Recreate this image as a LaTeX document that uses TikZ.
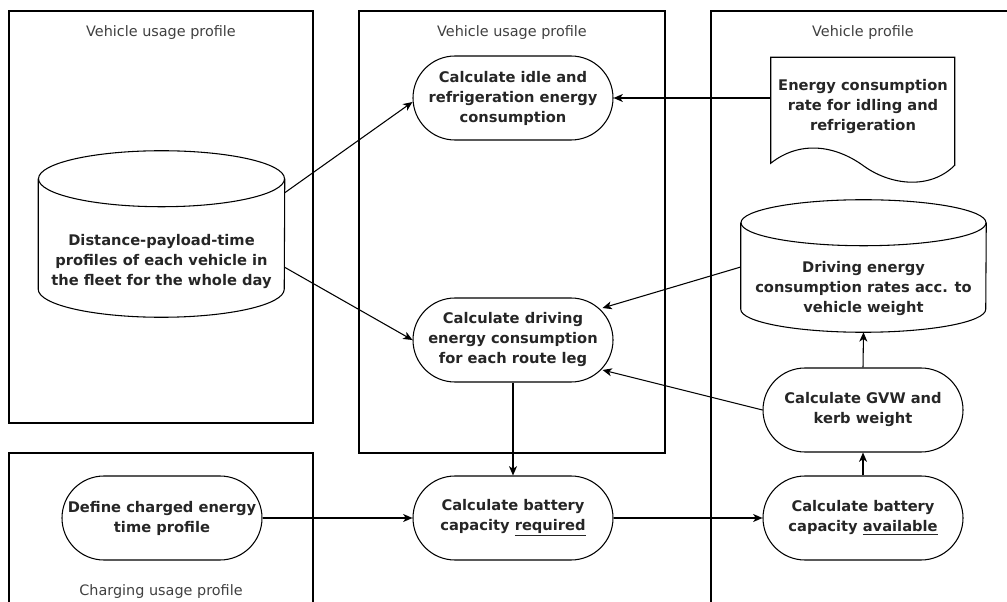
\documentclass[tikz,border=0pt]{standalone}
\usepackage{fontspec}
\setmainfont{DejaVu Sans}
\usetikzlibrary{arrows.meta}

\begin{document}
\begin{tikzpicture}[
  x=0.75pt, y=-0.75pt,
  >={Stealth[length=7pt,width=6pt,inset=2pt]},
  every node/.style={font=\fontsize{11}{15}\selectfont\bfseries, text=black!85},
  proc/.style={rectangle, rounded corners=31.5pt, draw, line width=0.8pt, inner sep=0pt, minimum width=150pt, minimum height=63pt, align=center},
  store/.style={rectangle, inner sep=0pt, align=center},
  grp/.style={font=\fontsize{10.8}{13}\selectfont, text=black!75},
  frame/.style={draw, line width=0.8pt},
  link/.style={->, line width=0.8pt}
]
  \clip (0,0) rectangle (1007,602);

  % swimlanes
  \draw[frame] (9,11) rectangle (313,423);
  \draw[frame] (359,11) rectangle (665,453);
  \draw[frame] (711,11) rectangle (1030,640);
  \draw[frame] (9,453) rectangle (313,640);
  \node[grp] (lane1) at (161,33) {Vehicle usage profile};
  \node[grp] (lane2) at (512,33) {Vehicle usage profile};
  \node[grp] (lane3) at (863,33) {Vehicle profile};
  \node[grp] (lane4) at (161,592) {Charging usage profile};

  % processes
  \node[proc] (idle) at (513,98) {Calculate idle and\\refrigeration energy\\consumption};
  \node[proc] (drive) at (513,340) {Calculate driving\\energy consumption\\for each route leg};
  \node[proc] (gvw) at (863,410) {Calculate GVW and\\kerb weight};
  \node[proc] (avail) at (863,518) {Calculate battery\\capacity \underline{available}};
  \node[proc] (req) at (513,518) {Calculate battery\\capacity \underline{required}};
  \node[proc] (define) at (162,518) {Define charged energy\\time profile};

  % data stores
  \node[store, minimum width=184.5pt, minimum height=82.5pt] (ldb) at (161.5,262)
    {Distance-payload-time\\profiles of each vehicle in\\the fleet for the whole day};
  \draw[line width=0.8pt] ([yshift=21pt]ldb.north) ellipse [x radius=92.25pt, y radius=21pt];
  \draw[line width=0.8pt] ([yshift=21pt]ldb.north west) -- ([yshift=21pt]ldb.south west)
    arc [start angle=180, end angle=360, x radius=92.25pt, y radius=21pt] -- ([yshift=21pt]ldb.north east);

  \node[store, minimum width=183.75pt, minimum height=64.5pt] (rdb) at (863.5,289)
    {Driving energy\\consumption rates acc. to\\vehicle weight};
  \draw[line width=0.8pt] ([yshift=17.25pt]rdb.north) ellipse [x radius=91.875pt, y radius=17.25pt];
  \draw[line width=0.8pt] ([yshift=17.25pt]rdb.north west) -- ([yshift=17.25pt]rdb.south west)
    arc [start angle=180, end angle=360, x radius=91.875pt, y radius=17.25pt] -- ([yshift=17.25pt]rdb.north east);

  % document
  \node[store, minimum width=138pt, minimum height=75pt] (rate) at (863,107)
    {Energy consumption\\rate for idling and\\refrigeration};
  \draw[line width=0.8pt, shift={(rate.south west)}] (0,6) -- (0,-100) -- (184,-100) -- (184,8)
    .. controls (159,33) and (119,28) .. (92,8) .. controls (64,-12) and (29,-17) .. (0,6) -- cycle;

  % flows
  \draw[link] ([yshift=10.5pt]ldb.north east) -- ([yshift=-3pt]idle.west);
  \draw[link] ([yshift=-4pt]ldb.east) -- (drive.west);
  \draw[link] (rate.west |- idle.east) -- (idle.east);
  \draw[link] ([yshift=16.5pt]rdb.west) -- ([shift={(-11,-32)}]drive.east);
  \draw[link] (gvw.west) -- ([shift={(-11,30)}]drive.east);
  \draw[link] (gvw.north) -- (rdb.south);
  \draw[link] (avail.north) -- (gvw.south);
  \draw[link] (drive.south) -- (req.north);
  \draw[link] (define.east) -- (req.west);
  \draw[link] (req.east) -- (avail.west);
\end{tikzpicture}
\end{document}
